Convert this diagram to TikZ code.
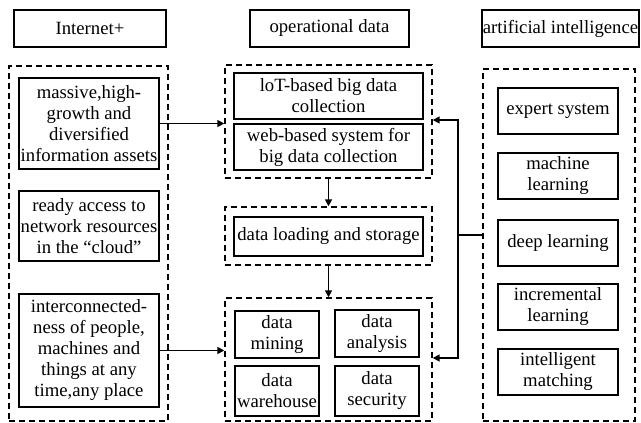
\documentclass[tikz,border=0pt]{standalone}
\usepackage{fontspec}
\setmainfont{Liberation Serif}
\usetikzlibrary{arrows.meta}
\begin{document}
\begin{tikzpicture}[x=1pt,y=-1pt,
  font=\fontsize{18.7}{21}\selectfont,
  box/.style={draw, line width=1.8pt, align=center, inner sep=0pt},
  group/.style={draw, line width=1.4pt, dash pattern=on 6pt off 4pt, inner sep=0pt},
  arr/.style={line width=1.6pt, -{Triangle[length=7pt,width=7pt]}},
  ln/.style={line width=1.6pt}]
\useasboundingbox (0,0) rectangle (641,423);

% column headings
\node[box, minimum width=152pt, minimum height=37pt] (h1) at (90,28.5) {Internet+};
\node[box, minimum width=159pt, minimum height=37pt] (h2) at (329.5,28.5) {operational data};
\node[box, minimum width=157pt, minimum height=37pt] (h3) at (560.5,28.5) {artificial intelligence};

% left group
\node[group, minimum width=159pt, minimum height=355pt] (gl) at (88.5,243.5) {};
\node[box, minimum width=140pt, minimum height=91pt] (m1) at (89,123.5)
  {massive,high-\\growth and\\diversified\\information assets};
\node[box, minimum width=140pt, minimum height=70pt] (m2) at (89,226)
  {ready access to\\network resources\\in the “cloud”};
\node[box, minimum width=140pt, minimum height=113pt] (m3) at (89,350.5)
  {interconnected-\\ness of people,\\machines and\\things at any\\time,any place};

% middle groups
\node[group, minimum width=207pt, minimum height=113pt] (g1) at (328.5,121.5) {};
\node[box, minimum width=189pt, minimum height=46pt] (c1) at (328.5,96) {loT-based big data\\collection};
\node[box, minimum width=189pt, minimum height=46pt] (c2) at (328.5,147) {web-based system for\\big data collection};

\node[group, minimum width=207pt, minimum height=58pt] (g2) at (328.5,236) {};
\node[box, minimum width=189pt, minimum height=39pt] (s1) at (328.5,236.5) {data loading and storage};

\node[group, minimum width=207pt, minimum height=123pt] (g3) at (328.5,359.5) {};
\node[box, minimum width=84pt, minimum height=47pt] (d1) at (277,334.5) {data\\mining};
\node[box, minimum width=84pt, minimum height=47pt] (d2) at (377,333.5) {data\\analysis};
\node[box, minimum width=84pt, minimum height=50pt] (d3) at (277,391) {data\\warehouse};
\node[box, minimum width=84pt, minimum height=50pt] (d4) at (377,391) {data\\security};

% right group
\node[group, minimum width=152pt, minimum height=352pt] (gr) at (559,245) {};
\node[box, minimum width=120pt, minimum height=46pt] (a1) at (558,111) {expert system};
\node[box, minimum width=120pt, minimum height=46pt] (a2) at (558,176) {machine\\learning};
\node[box, minimum width=120pt, minimum height=46pt] (a3) at (558,243) {deep learning};
\node[box, minimum width=120pt, minimum height=46pt] (a4) at (558,307) {incremental\\learning};
\node[box, minimum width=120pt, minimum height=46pt] (a5) at (558,372) {intelligent\\matching};

% connectors
\draw[arr] (m1.east) -- (m1.east -| g1.west);
\draw[arr] (m3.east) -- (m3.east -| g3.west);
\draw[arr] (g1.south) -- (g2.north);
\draw[arr] (g2.south) -- (g3.north);

\coordinate (j) at (458,235);
\coordinate (ja) at (458,120);
\coordinate (jb) at (458,358);
\draw[ln] (gr.west |- j) -- (j);
\draw[arr] (j) -- (ja) -- (ja -| g1.east);
\draw[arr] (j) -- (jb) -- (jb -| g3.east);
\end{tikzpicture}
\end{document}
